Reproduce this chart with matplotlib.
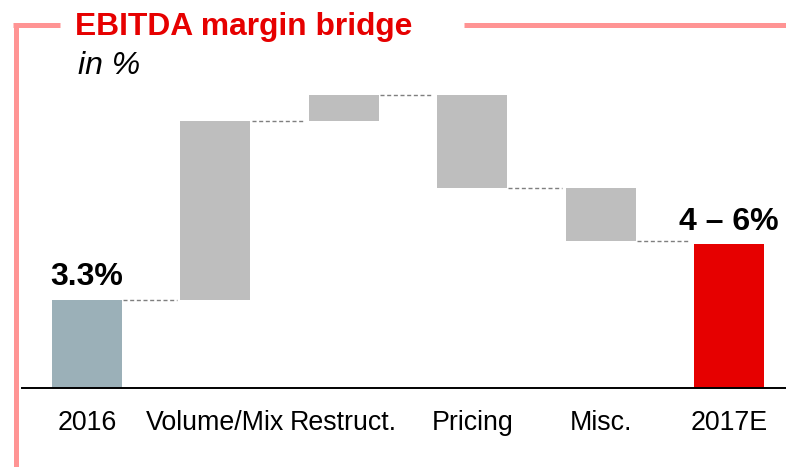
import matplotlib
matplotlib.use("Agg")
import matplotlib.pyplot as plt
from matplotlib.lines import Line2D

plt.rcParams['font.family'] = ['Liberation Sans', 'DejaVu Sans']

# data
categories = ['2016', 'Volume/Mix', 'Restruct.', 'Pricing', 'Misc.', '2017E']
start_value = 3.3
deltas = [6.7, 1.0, -3.5, -2.0]
end_value = 5.4
start_label = '3.3%'
end_label = '4 \u2013 6%'

# colours
c_start = '#9BB0B8'
c_step = '#BEBEBE'
c_end = '#E60000'
c_title = '#E60000'
c_frame = '#FF9494'
c_conn = '#7F7F7F'

W, H = 786, 467
fig = plt.figure(figsize=(W / 100, H / 100), dpi=100)

# axes placed in pixel terms: left 22px, baseline at 388px
ax = fig.add_axes([22 / W, (H - 388) / H, 1 - 22 / W, (388 - 60) / H])
ax.set_xlim(-0.506, 5.444)
ax.set_ylim(0, (388 - 60) / 26.67)

bw = 0.545
x = list(range(len(categories)))

# start bar
ax.bar(x[0], start_value, width=bw, color=c_start, zorder=2)

# step bars + connectors
level = start_value
for i, d in enumerate(deltas, start=1):
    bottom = level if d > 0 else level + d
    ax.bar(x[i], abs(d), bottom=bottom, width=bw, color=c_step, zorder=2)
    ax.plot([x[i - 1] + bw / 2 + 0.01, x[i] - bw / 2 - 0.03], [level, level],
            color=c_conn, lw=1.0, dashes=(2.9, 1.9), zorder=1)
    level += d

# connector to end bar
ax.plot([x[-2] + bw / 2 + 0.01, x[-1] - bw / 2 - 0.03], [level, level],
        color=c_conn, lw=1.0, dashes=(2.9, 1.9), zorder=1)
ax.bar(x[-1], end_value, width=bw, color=c_end, zorder=2)

# value labels
ax.annotate(start_label, (x[0], start_value), xytext=(0, 10.8),
            textcoords='offset points', ha='center', va='baseline',
            fontsize=23, fontweight='bold', color='black')
ax.annotate(end_label, (x[-1], end_value), xytext=(0, 10.3),
            textcoords='offset points', ha='center', va='baseline',
            fontsize=23, fontweight='bold', color='black')

# axes styling
for s in ['top', 'right', 'left']:
    ax.spines[s].set_visible(False)
ax.spines['bottom'].set_linewidth(1.4)
ax.spines['bottom'].set_color('black')
ax.set_yticks([])
ax.set_xticks(x)
ax.set_xticklabels(categories, fontsize=19.3)
ax.tick_params(axis='x', length=0, pad=15.5)

# frame lines (figure pixel coords)
def fig_line(x0, y0, x1, y1):
    fig.add_artist(Line2D([x0 / W, x1 / W], [1 - y0 / H, 1 - y1 / H],
                          transform=fig.transFigure, color=c_frame,
                          lw=3.6, solid_capstyle='butt'))

fig_line(15.5, 24.5, 15.5, 467)
fig_line(13, 24.5, 60, 24.5)
fig_line(464, 24.5, 786, 24.5)

# title
fig.text(75 / W, 1 - 35 / H, 'EBITDA margin bridge', ha='left', va='baseline',
         fontsize=22.9, fontweight='bold', color=c_title)
fig.text(78 / W, 1 - 74 / H, 'in %', ha='left', va='baseline',
         fontsize=23, fontstyle='italic', color='black')

fig.savefig('out.png', dpi=100)
